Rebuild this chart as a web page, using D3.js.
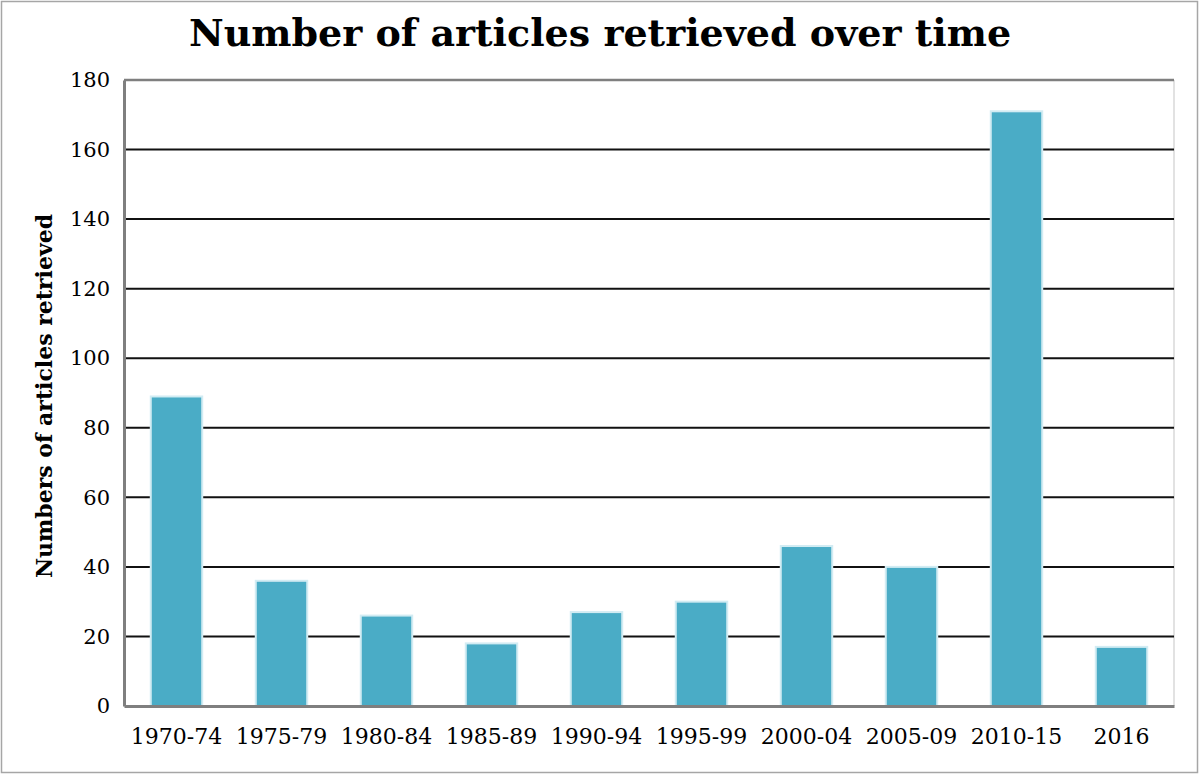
<!DOCTYPE html>
<html>
<head>
<meta charset="utf-8">
<script src="https://cdn.jsdelivr.net/npm/d3@7"></script>
<style>
  html, body { margin: 0; padding: 0; background: #fff; }
  svg { display: block; }
  .tick text { font-family: "DejaVu Serif", serif; fill: #000; }
</style>
</head>
<body>
<div id="chart"></div>
<script>
// chart data
const periods = ['1970-74', '1975-79', '1980-84', '1985-89', '1990-94',
                 '1995-99', '2000-04', '2005-09', '2010-15', '2016'];
const articles = [89, 36, 26, 18, 27, 30, 46, 40, 171, 17];
const yTicks = [0, 20, 40, 60, 80, 100, 120, 140, 160, 180];

const W = 1200, H = 775;
const margin = { top: 80, right: 26, bottom: 69, left: 124 };
const innerW = W - margin.left - margin.right;
const innerH = H - margin.top - margin.bottom;

const svg = d3.select('#chart').append('svg')
  .attr('width', W)
  .attr('height', H);

// outer frame
svg.append('rect')
  .attr('x', 1.5).attr('y', 1.5)
  .attr('width', W - 4).attr('height', H - 4)
  .attr('fill', '#fff')
  .attr('stroke', '#a6a6a6')
  .attr('stroke-width', 1.5);

svg.append('text')
  .attr('x', 600)
  .attr('y', 46)
  .attr('text-anchor', 'middle')
  .attr('font-family', '"DejaVu Serif", serif')
  .attr('font-weight', 'bold')
  .attr('font-size', 38)
  .text('Number of articles retrieved over time');

const g = svg.append('g')
  .attr('transform', `translate(${margin.left},${margin.top})`);

const x = d3.scaleBand()
  .domain(periods)
  .range([0, innerW])
  .paddingInner(0.51)
  .paddingOuter(0.255);

const y = d3.scaleLinear()
  .domain([0, 180])
  .range([innerH, 0]);

// right border of plot area
g.append('line')
  .attr('x1', innerW).attr('x2', innerW)
  .attr('y1', 0).attr('y2', innerH)
  .attr('stroke', '#d9d9d9')
  .attr('stroke-width', 1.5);

// gridlines
g.selectAll('.grid')
  .data(yTicks.filter(d => d > 0 && d < 180))
  .join('line')
  .attr('class', 'grid')
  .attr('x1', 0).attr('x2', innerW)
  .attr('y1', d => y(d)).attr('y2', d => y(d))
  .attr('stroke', '#111')
  .attr('stroke-width', 2);

// top border
g.append('line')
  .attr('x1', 0).attr('x2', innerW)
  .attr('y1', y(180)).attr('y2', y(180))
  .attr('stroke', '#7f7f7f')
  .attr('stroke-width', 2.5);

// bars
g.selectAll('.bar')
  .data(articles)
  .join('rect')
  .attr('class', 'bar')
  .attr('x', (d, i) => x(periods[i]))
  .attr('y', d => y(d))
  .attr('width', x.bandwidth())
  .attr('height', d => innerH - y(d))
  .attr('fill', '#4aacc6')
  .attr('stroke', '#d2ecf3')
  .attr('stroke-width', 2);

// axes
const yAxis = g.append('g')
  .call(d3.axisLeft(y).tickValues(yTicks).tickSize(0).tickPadding(14));
yAxis.select('.domain').attr('stroke', '#7f7f7f').attr('stroke-width', 3);
yAxis.selectAll('text').attr('font-size', 21);

const xAxis = g.append('g')
  .attr('transform', `translate(0,${innerH})`)
  .call(d3.axisBottom(x).tickSize(0).tickPadding(22));
xAxis.select('.domain').attr('stroke', '#7f7f7f').attr('stroke-width', 3);
xAxis.selectAll('text').attr('font-size', 22);

svg.append('text')
  .attr('transform', `translate(52,${margin.top + innerH / 2 + 3}) rotate(-90)`)
  .attr('text-anchor', 'middle')
  .attr('font-family', '"DejaVu Serif", serif')
  .attr('font-weight', 'bold')
  .attr('font-size', 22)
  .text('Numbers of articles retrieved');
</script>
</body>
</html>
